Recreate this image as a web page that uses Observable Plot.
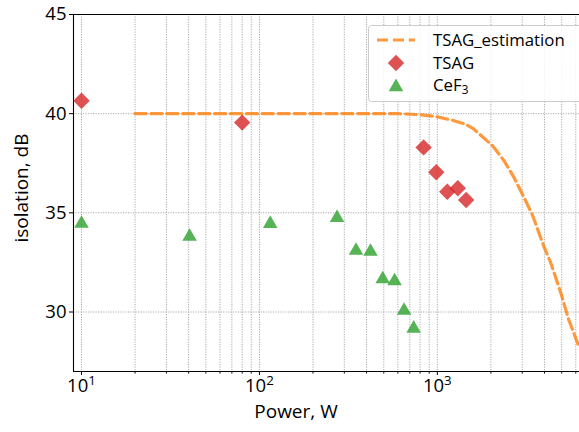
<!DOCTYPE html>
<html>
<head>
<meta charset="utf-8">
<script src="https://cdn.jsdelivr.net/npm/d3@7"></script>
<script src="https://cdn.jsdelivr.net/npm/@observablehq/plot@0.6"></script>
<style>
  html, body { margin: 0; padding: 0; background: white; }
  svg { display: block; }
</style>
</head>
<body>
<div id="chart"></div>
<script>
// ---- data ----
const tsagPower = [10, 80, 837, 986, 1137, 1303, 1452];
const tsagIso   = [40.65, 39.55, 38.3, 37.05, 36.06, 36.24, 35.65];

const cefPower = [10, 40.5, 115, 273, 349, 421, 493, 575, 650, 736];
const cefIso   = [34.56, 33.9, 34.55, 34.85, 33.2, 33.15, 31.76, 31.66, 30.17, 29.27];

const estPower = [20, 100, 300, 600, 800, 1000, 1200, 1440, 1600, 2040, 2370, 2690, 3060, 3420, 3970, 4330, 4930, 5480, 6240];
const estIso   = [40, 40, 40, 40, 39.95, 39.84, 39.68, 39.47, 39.23, 38.39, 37.63, 36.8, 35.8, 34.9, 33.3, 32.5, 31.0, 29.6, 28.27];

const xDomain = [9.016, 6295];
const yDomain = [27, 45];
const xMajor = [10, 100, 1000];
const xMinor = [20, 30, 40, 50, 60, 70, 80, 90, 200, 300, 400, 500, 600, 700, 800, 900, 2000, 3000, 4000, 5000, 6000];
const yTicks = [30, 35, 40, 45];
const yGrid = [30, 35, 40];

const seriesNames = ["TSAG_estimation", "TSAG", "CeF"];
const colors = {est: "#ff7f0e", tsag: "#d62728", cef: "#2ca02c"};

const tsag = tsagPower.map((p, i) => ({p, v: tsagIso[i]}));
const cef = cefPower.map((p, i) => ({p, v: cefIso[i]}));
const est = estPower.map((p, i) => ({p, v: estIso[i]}));

const gridStyle = {stroke: "#a0a0a0", strokeOpacity: 1, strokeWidth: 0.9, strokeDasharray: "1.2,1.3"};

const plot = Plot.plot({
  width: 579,
  height: 432,
  marginLeft: 73,
  marginRight: 0,
  marginTop: 14,
  marginBottom: 61,
  x: {type: "log", domain: xDomain},
  y: {domain: yDomain},
  style: {fontFamily: "'Open Sans', sans-serif", color: "black", background: "white", overflow: "visible"},
  marks: [
    Plot.gridX(xMajor.concat(xMinor), gridStyle),
    Plot.gridY(yGrid, gridStyle),
    Plot.axisX(xMinor, {tickSize: 2.5, tickFormat: () => "", label: null}),
    Plot.axisX(xMajor, {tickSize: 4, tickPadding: 3, fontSize: 18.5, label: null,
      tickFormat: d => "10^" + Math.round(Math.log10(d))}),
    Plot.axisY(yTicks, {tickSize: 4, tickPadding: 3, fontSize: 18.5, label: null}),
    Plot.ruleY([yDomain[0], yDomain[1]], {stroke: "black", strokeWidth: 1.1}),
    Plot.ruleX([xDomain[0]], {stroke: "black", strokeWidth: 1.1}),
    Plot.line(est, {x: "p", y: "v", stroke: colors.est, strokeOpacity: 0.8, strokeWidth: 3.2,
      strokeDasharray: "11.1,4.8", clip: true}),
    Plot.dot(tsag, {x: "p", y: "v", symbol: "diamond2", r: 7.4, fill: colors.tsag, fillOpacity: 0.8, stroke: "none"}),
    Plot.dot(cef, {x: "p", y: "v", symbol: "triangle", r: 5.4, dy: 2, fill: colors.cef, fillOpacity: 0.8, stroke: "none"})
  ]
});

document.getElementById("chart").appendChild(plot);
const svg = d3.select(plot);

// superscript tick labels
svg.selectAll("text").each(function() {
  const t = d3.select(this);
  const m = /^10\^(\d)$/.exec(t.text());
  if (m) {
    t.text("10");
    t.append("tspan").attr("dy", "-0.5em").attr("font-size", "0.72em").text(m[1]);
  }
});

// axis labels
svg.append("text")
  .attr("x", 296).attr("y", 418)
  .attr("text-anchor", "middle")
  .attr("font-size", 19).attr("font-family", "'Open Sans', sans-serif")
  .attr("fill", "black")
  .text("Power, W");
svg.append("text")
  .attr("transform", "translate(28,188) rotate(-90)")
  .attr("text-anchor", "middle")
  .attr("font-size", 19).attr("font-family", "'Open Sans', sans-serif")
  .attr("fill", "black")
  .text("isolation, dB");

// legend
const lg = svg.append("g").attr("font-family", "'Open Sans', sans-serif").attr("font-size", 16.8).attr("text-anchor", "start");
lg.append("rect").attr("x", 368.5).attr("y", 25.5).attr("width", 220).attr("height", 76)
  .attr("rx", 3).attr("fill", "white").attr("fill-opacity", 0.85).attr("stroke", "#cccccc");
lg.append("line").attr("x1", 377).attr("x2", 415).attr("y1", 40).attr("y2", 40)
  .attr("stroke", colors.est).attr("stroke-opacity", 0.8).attr("stroke-width", 3.2).attr("stroke-dasharray", "11.1,4.8");
lg.append("path").attr("transform", "translate(396,63)")
  .attr("d", d3.symbol(d3.symbolDiamond2, Math.PI * 7.4 * 7.4)())
  .attr("fill", colors.tsag).attr("fill-opacity", 0.8);
lg.append("path").attr("transform", "translate(396,87)")
  .attr("d", d3.symbol(d3.symbolTriangle, Math.PI * 5.4 * 5.4)())
  .attr("fill", colors.cef).attr("fill-opacity", 0.8);
const labelsY = [40, 63, 85];
seriesNames.forEach((name, i) => {
  const t = lg.append("text").attr("x", 433).attr("y", labelsY[i]).attr("dy", "0.35em")
    .attr("text-anchor", "start").attr("fill", "black").text(name);
  if (i === 2) t.append("tspan").attr("dy", "0.3em").attr("font-size", "0.7em").text("3");
});
</script>
</body>
</html>
